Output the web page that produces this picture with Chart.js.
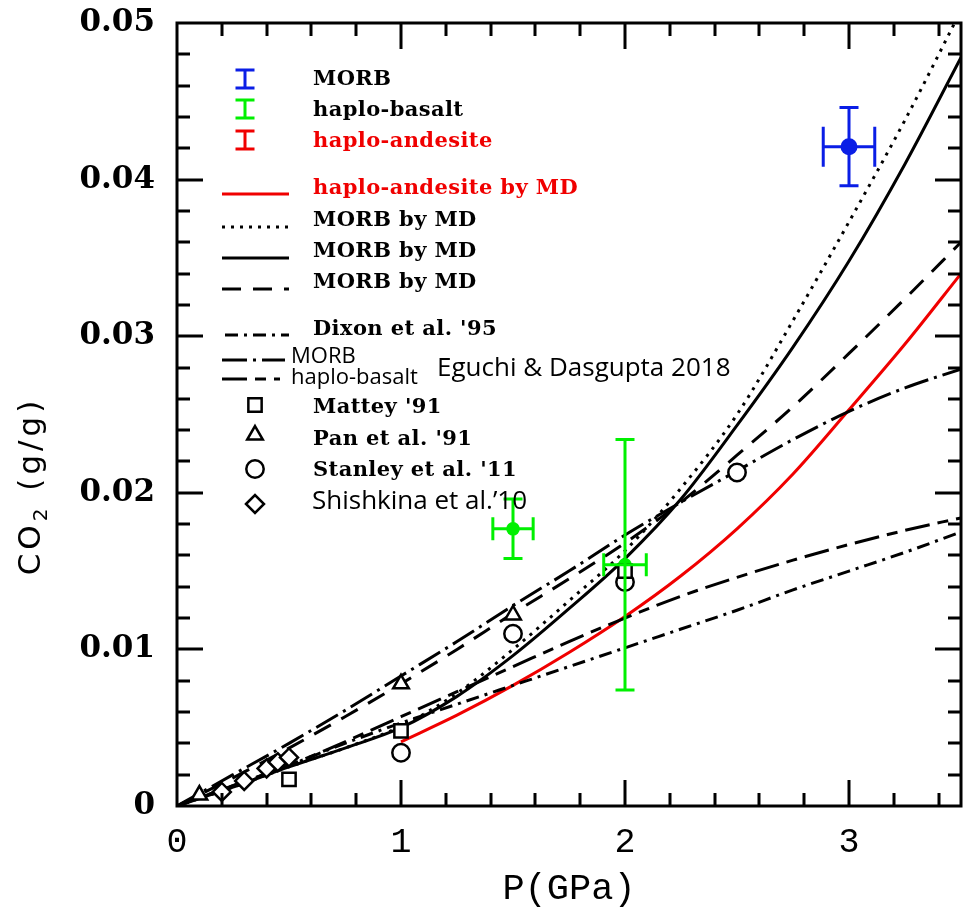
<!DOCTYPE html>
<html>
<head>
<meta charset="utf-8">
<script src="https://cdn.jsdelivr.net/npm/chart.js@4.4.0/dist/chart.umd.min.js"></script>
<style>
  html, body { margin: 0; padding: 0; background: #fff; }
</style>
</head>
<body>
<canvas id="co2Chart" width="966" height="913"></canvas>
<script>
// pressure grid (GPa) for the model curves
const pGrid = [0, 0.25, 0.5, 0.75, 1, 1.25, 1.5, 1.75, 2, 2.25, 2.5, 2.75, 3, 3.25, 3.5];
const morbMdDotted = [0, 0.0012, 0.0025, 0.0037, 0.0051, 0.0072, 0.0100, 0.0131, 0.0163, 0.0203, 0.0250, 0.0310, 0.0373, 0.0438, 0.0508];
const morbMdSolid  = [0, 0.0012, 0.0025, 0.0037, 0.0050, 0.0070, 0.0096, 0.0126, 0.0158, 0.0196, 0.0243, 0.0293, 0.0348, 0.0410, 0.0478];
const morbMdDashed = [0, 0.0018, 0.0037, 0.0057, 0.0078, 0.0100, 0.0123, 0.0145, 0.0168, 0.0194, 0.0224, 0.0255, 0.0289, 0.0324, 0.0360];
const eguchiMorb   = [0, 0.0020, 0.0040, 0.0061, 0.0083, 0.0105, 0.0128, 0.0150, 0.0173, 0.0194, 0.0214, 0.0234, 0.0252, 0.0267, 0.0279];
const eguchiBasalt = [0, 0.0013, 0.0026, 0.0041, 0.0057, 0.0073, 0.0089, 0.0105, 0.0120, 0.0134, 0.0146, 0.0157, 0.0167, 0.0176, 0.0184];
const dixon95      = [0, 0.0013, 0.0026, 0.0040, 0.0053, 0.0065, 0.0077, 0.0089, 0.0101, 0.0113, 0.0125, 0.0138, 0.0150, 0.0162, 0.0175];

// haplo-andesite MD curve only starts at 1 GPa
const pAndesite  = [1, 1.25, 1.5, 1.75, 2, 2.25, 2.5, 2.75, 3, 3.25, 3.5];
const andesiteMd = [0.0041, 0.0058, 0.0077, 0.0098, 0.0121, 0.0147, 0.0177, 0.0212, 0.0253, 0.0295, 0.0340];

// literature data
const matteyP = [0.5, 1.0, 2.0];
const matteyCO2 = [0.0017, 0.0048, 0.0150];
const panP = [0.1, 1.0, 1.5];
const panCO2 = [0.0007, 0.0078, 0.0122];
const stanleyP = [1.0, 1.5, 2.0, 2.5];
const stanleyCO2 = [0.0034, 0.0110, 0.0143, 0.0213];
const shishkinaP = [0.2, 0.3, 0.4, 0.45, 0.5];
const shishkinaCO2 = [0.0009, 0.0016, 0.0024, 0.0028, 0.0031];

// MD results with error bars
const morbExpP = [3.0];
const morbExpCO2 = [0.0421];
const morbErrP = [0.115];
const morbErrCO2 = [0.0025];
const basaltExpP = [1.5, 2.0];
const basaltExpCO2 = [0.0177, 0.0154];
const basaltErrP = [0.09, 0.095];
const basaltErrCO2 = [0.0019, 0.0080];

// legend text
const expLabels = ['MORB', 'haplo-basalt', 'haplo-andesite'];
const mdLabels = ['haplo-andesite by MD', 'MORB by MD', 'MORB by MD', 'MORB by MD'];
const eguchiLabels = ['MORB', 'haplo-basalt', 'Eguchi & Dasgupta 2018'];
const refLabels = ["Dixon et al. '95", "Mattey '91", "Pan et al. '91", "Stanley et al. '11", "Shishkina et al.\u201910"];

const BLUE = '#0a1ee6', GREEN = '#00f000', RED = '#f00000';
const LW = 3;
const DASH = {
  dotted: [3, 6],
  dashed: [19, 12],
  egMorb: [25, 6, 3, 6],
  egBasalt: [25, 8, 11, 8],
  dixon: [13, 6, 3, 6]
};

const toXY = (xs, ys) => xs.map((x, i) => ({ x: x, y: ys[i] }));

function curve(xs, ys, color, dash) {
  return {
    data: toXY(xs, ys), showLine: true, borderColor: color, borderWidth: LW,
    borderDash: dash, pointRadius: 0, cubicInterpolationMode: 'monotone', order: 2
  };
}
function markers(xs, ys, style, r) {
  return {
    data: toXY(xs, ys), pointStyle: style, pointRadius: r, pointBorderWidth: 2.5,
    pointBorderColor: '#000', pointBackgroundColor: '#fff', showLine: false, order: 0
  };
}
function expPoints(xs, ys, color, r) {
  return {
    data: toXY(xs, ys), pointStyle: 'circle', pointRadius: r, pointBorderWidth: 0,
    pointBackgroundColor: color, showLine: false, order: 0
  };
}

const datasets = [
  markers(shishkinaP, shishkinaCO2, 'rectRot', 9),
  markers(matteyP, matteyCO2, 'rect', 9.4),
  markers(panP, panCO2, 'triangle', 9),
  markers(stanleyP, stanleyCO2, 'circle', 8.7),
  expPoints(morbExpP, morbExpCO2, BLUE, 8.5),
  expPoints(basaltExpP, basaltExpCO2, GREEN, 6.8),
  curve(pGrid, morbMdDotted, '#000', DASH.dotted),
  curve(pGrid, morbMdSolid, '#000', []),
  curve(pGrid, morbMdDashed, '#000', DASH.dashed),
  curve(pGrid, eguchiMorb, '#000', DASH.egMorb),
  curve(pGrid, eguchiBasalt, '#000', DASH.egBasalt),
  curve(pGrid, dixon95, '#000', DASH.dixon),
  curve(pAndesite, andesiteMd, RED, [])
];

// error bars go through the scales
const errorBars = {
  id: 'errorBars',
  afterDatasetsDraw(chart) {
    const ctx = chart.ctx, xs = chart.scales.x, ys = chart.scales.y;
    const sets = [
      { p: morbExpP, c: morbExpCO2, ep: morbErrP, ec: morbErrCO2, color: BLUE, capV: 19, capH: 40 },
      { p: basaltExpP, c: basaltExpCO2, ep: basaltErrP, ec: basaltErrCO2, color: GREEN, capV: 19, capH: 23 }
    ];
    ctx.save();
    ctx.lineWidth = 3;
    sets.forEach(s => {
      ctx.strokeStyle = s.color;
      s.p.forEach((p, i) => {
        const px = xs.getPixelForValue(p), py = ys.getPixelForValue(s.c[i]);
        const x0 = xs.getPixelForValue(p - s.ep[i]), x1 = xs.getPixelForValue(p + s.ep[i]);
        const y0 = ys.getPixelForValue(s.c[i] - s.ec[i]), y1 = ys.getPixelForValue(s.c[i] + s.ec[i]);
        ctx.beginPath();
        ctx.moveTo(px, y0); ctx.lineTo(px, y1);
        ctx.moveTo(px - s.capV / 2, y0); ctx.lineTo(px + s.capV / 2, y0);
        ctx.moveTo(px - s.capV / 2, y1); ctx.lineTo(px + s.capV / 2, y1);
        ctx.moveTo(x0, py); ctx.lineTo(x1, py);
        ctx.moveTo(x0, py - s.capH / 2); ctx.lineTo(x0, py + s.capH / 2);
        ctx.moveTo(x1, py - s.capH / 2); ctx.lineTo(x1, py + s.capH / 2);
        ctx.stroke();
      });
    });
    ctx.restore();
  }
};

// box with inward ticks on all four sides
const frameTicks = {
  id: 'frameTicks',
  afterDraw(chart) {
    const ctx = chart.ctx, a = chart.chartArea, xs = chart.scales.x, ys = chart.scales.y;
    ctx.save();
    ctx.strokeStyle = '#000';
    ctx.lineWidth = 3;
    ctx.setLineDash([]);
    ctx.strokeRect(a.left, a.top, a.right - a.left, a.bottom - a.top);
    ctx.beginPath();
    for (let i = 1; i < 18; i++) {
      const x = Math.round(xs.getPixelForValue(i * 0.2));
      const len = i % 5 === 0 ? 26 : 13;
      ctx.moveTo(x, a.bottom); ctx.lineTo(x, a.bottom - len);
      ctx.moveTo(x, a.top); ctx.lineTo(x, a.top + len);
    }
    for (let i = 1; i < 25; i++) {
      const y = Math.round(ys.getPixelForValue(i * 0.002));
      const len = i % 5 === 0 ? 26 : 13;
      ctx.moveTo(a.left, y); ctx.lineTo(a.left + len, y);
      ctx.moveTo(a.right, y); ctx.lineTo(a.right - len, y);
    }
    ctx.stroke();

    // y axis title with a real subscript
    ctx.translate(32, 486);
    ctx.rotate(-Math.PI / 2);
    ctx.fillStyle = '#000';
    ctx.textBaseline = 'middle';
    ctx.letterSpacing = '4px';
    const big = '31px "DejaVu Sans"', small = '20px "DejaVu Sans"';
    ctx.font = big; const w1 = ctx.measureText('CO').width;
    ctx.font = small; const w2 = ctx.measureText('2').width;
    ctx.font = big; const w3 = ctx.measureText(' (g/g)').width;
    let x = -(w1 + w2 + w3) / 2;
    ctx.font = big; ctx.fillText('CO', x, 0); x += w1;
    ctx.font = small; ctx.fillText('2', x, 10); x += w2;
    ctx.font = big; ctx.fillText(' (g/g)', x, 0);
    ctx.restore();
  }
};

function sample(ctx, x0, x1, y, color, dash) {
  ctx.strokeStyle = color;
  ctx.lineWidth = LW;
  ctx.setLineDash(dash);
  ctx.beginPath(); ctx.moveTo(x0, y); ctx.lineTo(x1, y); ctx.stroke();
  ctx.setLineDash([]);
}

const legendBox = {
  id: 'legendBox',
  afterDraw(chart) {
    const ctx = chart.ctx;
    ctx.save();
    ctx.textBaseline = 'middle';
    ctx.letterSpacing = '0.4px';
    const serif = 'bold 21px "DejaVu Serif"';
    const tx = 313;

    // error bar icons
    [BLUE, GREEN, RED].forEach((c, i) => {
      const cy = [79, 109, 140][i];
      ctx.strokeStyle = c; ctx.lineWidth = 3;
      ctx.beginPath();
      ctx.moveTo(245, cy - 9); ctx.lineTo(245, cy + 9);
      ctx.moveTo(235.5, cy - 9); ctx.lineTo(254.5, cy - 9);
      ctx.moveTo(235.5, cy + 9); ctx.lineTo(254.5, cy + 9);
      ctx.stroke();
      ctx.font = serif;
      ctx.fillStyle = i === 2 ? RED : '#000';
      ctx.fillText(expLabels[i], tx, [80, 111, 142][i]);
    });

    // MD curves
    const mdStyles = [[RED, []], ['#000', DASH.dotted], ['#000', []], ['#000', DASH.dashed]];
    const mdLineY = [194, 227, 258, 289], mdTextY = [189, 221, 252, 283];
    mdLabels.forEach((t, i) => {
      sample(ctx, 222, 289, mdLineY[i], mdStyles[i][0], mdStyles[i][1]);
      ctx.font = serif;
      ctx.fillStyle = i === 0 ? RED : '#000';
      ctx.fillText(t, tx, mdTextY[i]);
    });

    // model curves
    ctx.lineDashOffset = -3;
    sample(ctx, 222, 289, 335, '#000', DASH.dixon);
    ctx.lineDashOffset = 0;
    sample(ctx, 222, 285, 360, '#000', DASH.egMorb);
    sample(ctx, 222, 280, 379, '#000', DASH.egBasalt);
    ctx.fillStyle = '#000';
    ctx.font = serif;
    ctx.fillText(refLabels[0], tx, 330);
    ctx.letterSpacing = '0px';
    ctx.font = '22px "Open Sans"';
    ctx.fillText(eguchiLabels[0], 291, 357);
    ctx.fillText(eguchiLabels[1], 291, 378);
    ctx.font = '26px "Open Sans"';
    ctx.fillText(eguchiLabels[2], 437, 369);

    // data markers
    const styles = ['rect', 'triangle', 'circle', 'rectRot'];
    const radii = [9.4, 9, 8.7, 9];
    const my = [405, 435, 469, 504];
    ctx.strokeStyle = '#000';
    styles.forEach((s, i) => {
      ctx.lineWidth = 2.5;
      ctx.fillStyle = '#fff';
      Chart.helpers.drawPoint(ctx, { pointStyle: s, radius: radii[i], rotation: 0, borderWidth: 2.5 }, 255, my[i]);
    });
    ctx.fillStyle = '#000';
    ctx.letterSpacing = '0.4px';
    ctx.font = serif;
    ctx.fillText(refLabels[1], tx, 408);
    ctx.fillText(refLabels[2], tx, 440);
    ctx.fillText(refLabels[3], tx, 471);
    ctx.letterSpacing = '0px';
    ctx.font = '26px "Open Sans"';
    ctx.fillText(refLabels[4], tx - 1, 502);
    ctx.restore();
  }
};

new Chart(document.getElementById('co2Chart'), {
  type: 'scatter',
  data: { datasets: datasets },
  options: {
    responsive: false,
    animation: false,
    layout: { autoPadding: false, padding: { top: 23, right: 5, left: 0, bottom: 0 } },
    plugins: { legend: { display: false }, tooltip: { enabled: false } },
    scales: {
      x: {
        type: 'linear', min: 0, max: 3.5,
        grid: { display: false, drawTicks: false },
        border: { display: false },
        ticks: { stepSize: 1, includeBounds: false, padding: 16, color: '#000',
                 font: { family: 'Liberation Mono', size: 35 } },
        title: { display: true, text: 'P(GPa)', color: '#000',
                 font: { family: 'Liberation Mono', size: 37 }, padding: { top: 0, bottom: 2 } },
        afterFit(s) { s.height = 107; s.paddingLeft = 0; s.paddingRight = 0; }
      },
      y: {
        type: 'linear', min: 0, max: 0.05,
        grid: { display: false, drawTicks: false },
        border: { display: false },
        ticks: { stepSize: 0.01, padding: 22, color: '#000',
                 font: { family: 'DejaVu Serif', size: 31, weight: 'bold' } },
        afterFit(s) { s.width = 177; s.paddingTop = 0; s.paddingBottom = 0; }
      }
    }
  },
  plugins: [errorBars, frameTicks, legendBox]
});
</script>
</body>
</html>
